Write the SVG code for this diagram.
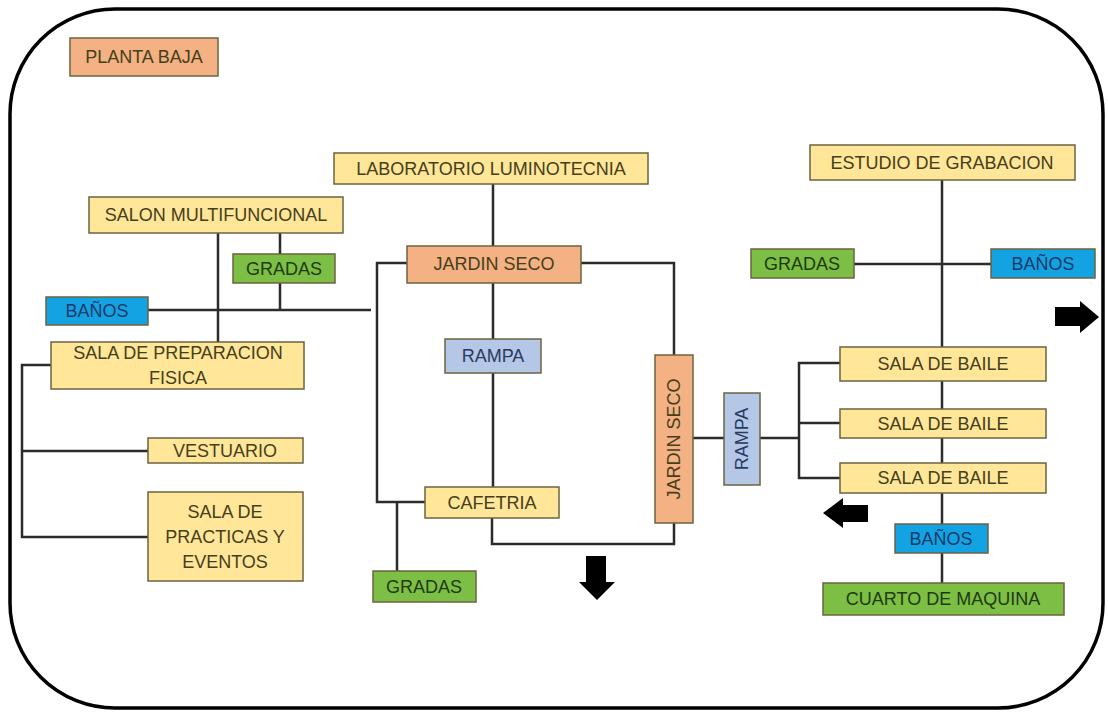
<svg xmlns="http://www.w3.org/2000/svg" width="1108" height="713" viewBox="0 0 1108 713">
<style>
.b{stroke:#6b6440;stroke-width:1.5}
.y{fill:#FFE699}
.o{fill:#F4B183}
.g{fill:#7CBF44}
.c{fill:#14A3E2}
.r{fill:#B4C7E7}
text{font-family:"Liberation Sans",Arial,sans-serif;font-size:18px;text-anchor:middle;dominant-baseline:central;fill:#45401a}
.tg{fill:#1e3a0e}
.tc{fill:#1b3a6a}
.tr{fill:#2a3a60}
#conn path{fill:none;stroke:#2b2b2b;stroke-width:2.5}
.arr{fill:#000}
</style>
<rect x="0" y="0" width="1108" height="713" fill="#fff"/>
<rect x="10" y="9" width="1093" height="699" rx="105" ry="105" fill="#fff" stroke="#000" stroke-width="3.5"/>

<g id="conn">
<!-- left -->
<path d="M218 233V342"/>
<path d="M280 233V254M280 283V310"/>
<path d="M148 310H371"/>
<path d="M51 365H22V537H148M22 451H148"/>
<!-- middle -->
<path d="M493 184V246M493 283V339M493 373V487"/>
<path d="M407 263H377V502H425M397 502V571"/>
<path d="M581 263H674V355"/>
<path d="M492 518V544H674V523"/>
<path d="M693 438H724M760 438H799"/>
<path d="M840 363H799V478H840M799 423H840"/>
<!-- right -->
<path d="M942 180V347M942 381V409M942 438V463M942 493V524M942 553V583"/>
<path d="M854 264H991"/>
</g>

<g id="planta-baja"><rect class="b o" x="70" y="38" width="148" height="38"/><text x="144" y="57">PLANTA BAJA</text></g>
<g id="lab-luminotecnia"><rect class="b y" x="334" y="153" width="314" height="31"/><text x="491" y="169">LABORATORIO LUMINOTECNIA</text></g>
<g id="salon-multifuncional"><rect class="b y" x="89" y="197" width="254" height="36"/><text x="216" y="215">SALON MULTIFUNCIONAL</text></g>
<g id="gradas-1"><rect class="b g" x="233" y="254" width="102" height="29"/><text class="tg" x="284" y="269">GRADAS</text></g>
<g id="banos-1"><rect class="b c" x="46" y="297" width="102" height="28"/><text class="tc" x="97" y="311">BAÑOS</text></g>
<g id="sala-preparacion"><rect class="b y" x="51" y="342" width="253" height="47"/><text x="178" y="353">SALA DE PREPARACION</text><text x="178" y="378">FISICA</text></g>
<g id="vestuario"><rect class="b y" x="148" y="438" width="155" height="25"/><text x="225" y="451">VESTUARIO</text></g>
<g id="sala-practicas"><rect class="b y" x="148" y="492" width="155" height="89"/><text x="225" y="512">SALA DE</text><text x="225" y="537">PRACTICAS Y</text><text x="225" y="562">EVENTOS</text></g>

<g id="jardin-seco-1"><rect class="b o" x="407" y="246" width="174" height="37"/><text x="494" y="264">JARDIN SECO</text></g>
<g id="rampa-1"><rect class="b r" x="445" y="339" width="96" height="34"/><text class="tr" x="493" y="356">RAMPA</text></g>
<g id="cafetria"><rect class="b y" x="425" y="487" width="134" height="31"/><text x="492" y="503">CAFETRIA</text></g>
<g id="gradas-2"><rect class="b g" x="373" y="571" width="103" height="31"/><text class="tg" x="424" y="587">GRADAS</text></g>
<g id="jardin-seco-2"><rect class="b o" x="655" y="355" width="38" height="168"/><text x="674" y="439" transform="rotate(-90 674 439)">JARDIN SECO</text></g>
<g id="rampa-2"><rect class="b r" x="724" y="393" width="36" height="92"/><text class="tr" x="742" y="439" transform="rotate(-90 742 439)">RAMPA</text></g>

<g id="estudio-grabacion"><rect class="b y" x="810" y="145" width="265" height="35"/><text x="942" y="163">ESTUDIO DE GRABACION</text></g>
<g id="gradas-3"><rect class="b g" x="751" y="249" width="103" height="29"/><text class="tg" x="802" y="264">GRADAS</text></g>
<g id="banos-2"><rect class="b c" x="991" y="249" width="104" height="29"/><text class="tc" x="1043" y="264">BAÑOS</text></g>
<g id="sala-baile-1"><rect class="b y" x="840" y="347" width="206" height="34"/><text x="943" y="364">SALA DE BAILE</text></g>
<g id="sala-baile-2"><rect class="b y" x="840" y="409" width="206" height="29"/><text x="943" y="424">SALA DE BAILE</text></g>
<g id="sala-baile-3"><rect class="b y" x="840" y="463" width="206" height="30"/><text x="943" y="478">SALA DE BAILE</text></g>
<g id="banos-3"><rect class="b c" x="895" y="524" width="93" height="29"/><text class="tc" x="941" y="539">BAÑOS</text></g>
<g id="cuarto-maquina"><rect class="b g" x="823" y="583" width="241" height="32"/><text class="tg" x="943" y="599">CUARTO DE MAQUINA</text></g>

<g id="arrows">
<polygon class="arr" points="1055,307 1080,307 1080,301 1099,317 1080,333 1080,326 1055,326"/>
<polygon class="arr" points="868,505 843,505 843,498 823,513 843,528 843,522 868,522"/>
<polygon class="arr" points="586,556 606,556 606,582 615,582 597,600 579,582 586,582"/>
</g>
</svg>
